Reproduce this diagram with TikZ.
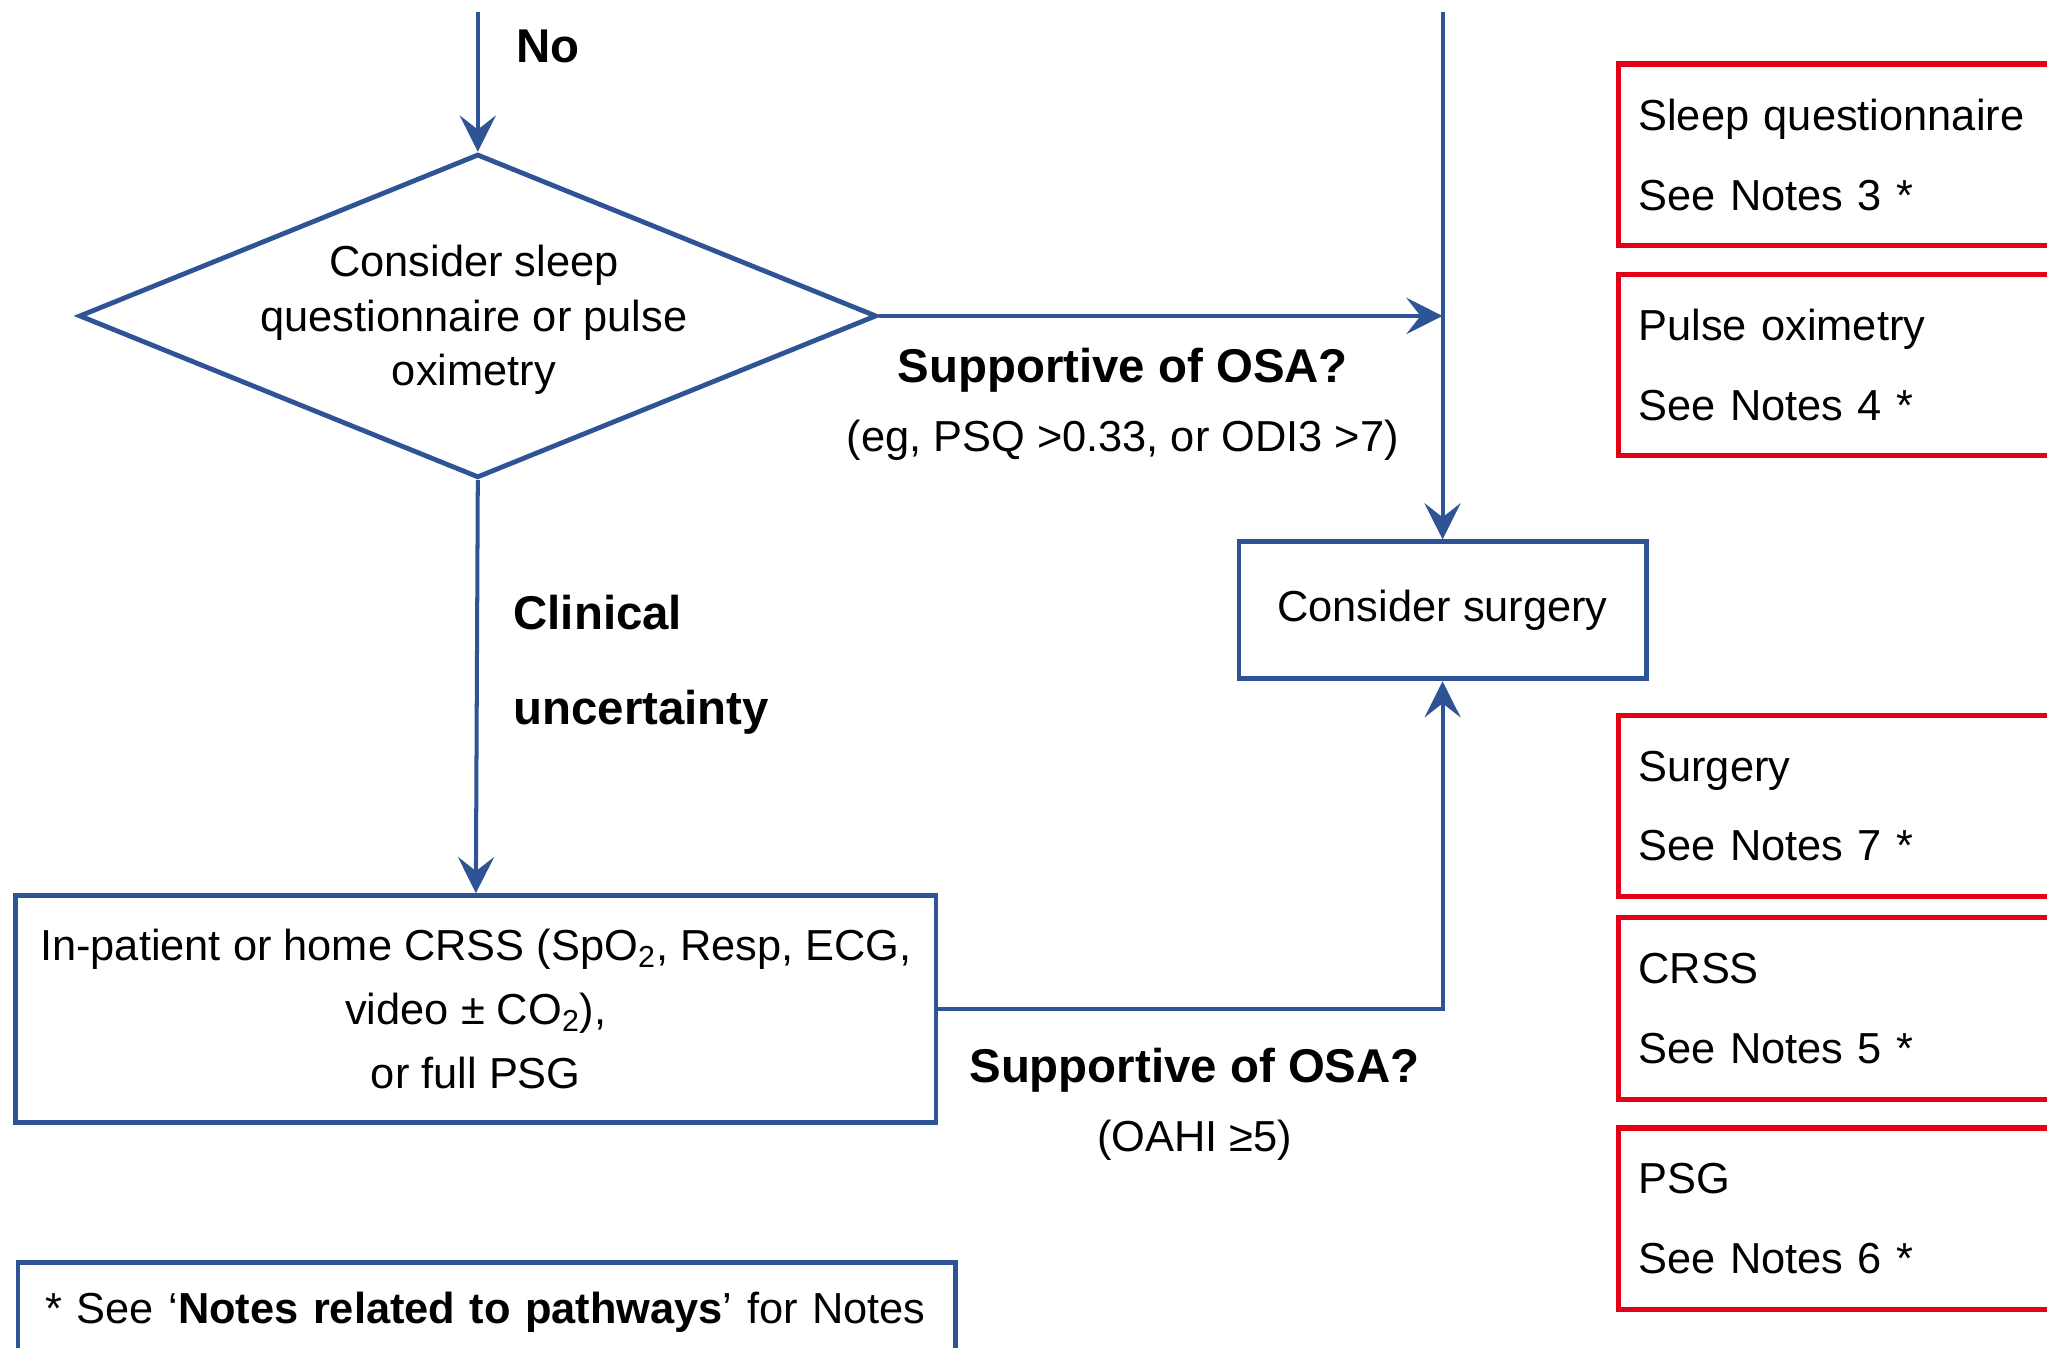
\documentclass[tikz,border=0pt]{standalone}
\usepackage{fontspec}
\setmainfont{Liberation Sans}
\usetikzlibrary{arrows.meta,shapes.geometric}
\definecolor{flowblue}{RGB}{47,84,150}
\definecolor{noteRed}{RGB}{228,0,22}

\begin{document}
\begin{tikzpicture}[x=0.65pt,y=-0.65pt,
  flow/.style={draw=flowblue,line width=2pt},
  arr/.style={flow,-{Stealth[length=18pt,width=18pt,inset=7pt]}},
  bluebox/.style={draw=flowblue,line width=2.4pt,rectangle,inner sep=0pt,
    font=\fontsize{21.6pt}{31.85pt}\selectfont,align=center},
  decision/.style={draw=flowblue,line width=2.4pt,diamond,inner sep=0pt,
    minimum width=611*0.65pt,minimum height=248*0.65pt},
  notebox/.style={draw=noteRed,line width=2.6pt,rectangle,anchor=north west,
    minimum height=139*0.65pt,text width=320*0.65pt,inner xsep=15*0.65pt,
    inner ysep=0pt,align=left,font=\fontsize{21.6pt}{39.65pt}\selectfont},
  txt/.style={inner sep=0pt,font=\fontsize{21.6pt}{27pt}\selectfont},
  lbl/.style={inner sep=0pt,font=\fontsize{23.6pt}{47.45pt}\selectfont\bfseries},
]
\useasboundingbox (0,0) rectangle (1568,1032);

% incoming branches from above
\coordinate (inL) at (366,9);
\coordinate (inR) at (1105,9);

% decision and process boxes
\node[decision] (dia) at (366,242) {};
\node[txt,align=center] (diatext) at (363,245)
  {Consider sleep\\questionnaire or pulse\\oximetry};
\node[bluebox,minimum width=312*0.65pt,minimum height=105*0.65pt]
  (surgery) at (1105,467.5) {Consider surgery};
\node[bluebox,minimum width=705*0.65pt,minimum height=174*0.65pt]
  (crss) at (364.5,773)
  {In-patient or home CRSS (SpO\textsubscript{2}, Resp, ECG,\\
   video ± CO\textsubscript{2}),\\or full PSG};

% footnote box
\node[draw=flowblue,line width=2.4pt,anchor=north west,inner ysep=0pt,
  inner xsep=21*0.65pt,text width=676*0.65pt,minimum height=77*0.65pt,
  align=left,font=\fontsize{21.6pt}{27pt}\selectfont]
  (notes) at (12,965) {* See ‘\textbf{Notes related to pathways}’ for Notes};

% reference boxes on the right
\node[notebox] (n3) at (1238,47)  {Sleep questionnaire\\See Notes 3 *};
\node[notebox] (n4) at (1238,208) {Pulse oximetry\\See Notes 4 *};
\node[notebox] (n7) at (1238,546) {Surgery\\See Notes 7 *};
\node[notebox] (n5) at (1238,701) {CRSS\\See Notes 5 *};
\node[notebox] (n6) at (1238,862) {PSG\\See Notes 6 *};

% connectors
\draw[arr] (inL) -- (dia.north);
\draw[arr] (inR) -- (surgery.north);
\draw[arr] (dia.east) -- (dia.east -| surgery.north);
\draw[arr] (dia.south) -- (crss.north);
\draw[arr] (crss.east) -| (surgery.south);

% connector labels
\node[lbl,anchor=base west] (no) at (395,48) {No};
\node[lbl,anchor=base] (sup1) at (860,293) {Supportive of OSA?};
\node[txt,anchor=base] (sup1b) at (860,346) {(eg, PSQ >0.33, or ODI3 >7)};
\node[lbl,anchor=west,align=left] (unc) at (393,509) {Clinical\\uncertainty};
\node[lbl,anchor=base] (sup2) at (915,829) {Supportive of OSA?};
\node[txt,anchor=base] (sup2b) at (915,882) {(OAHI ≥5)};
\end{tikzpicture}
\end{document}
